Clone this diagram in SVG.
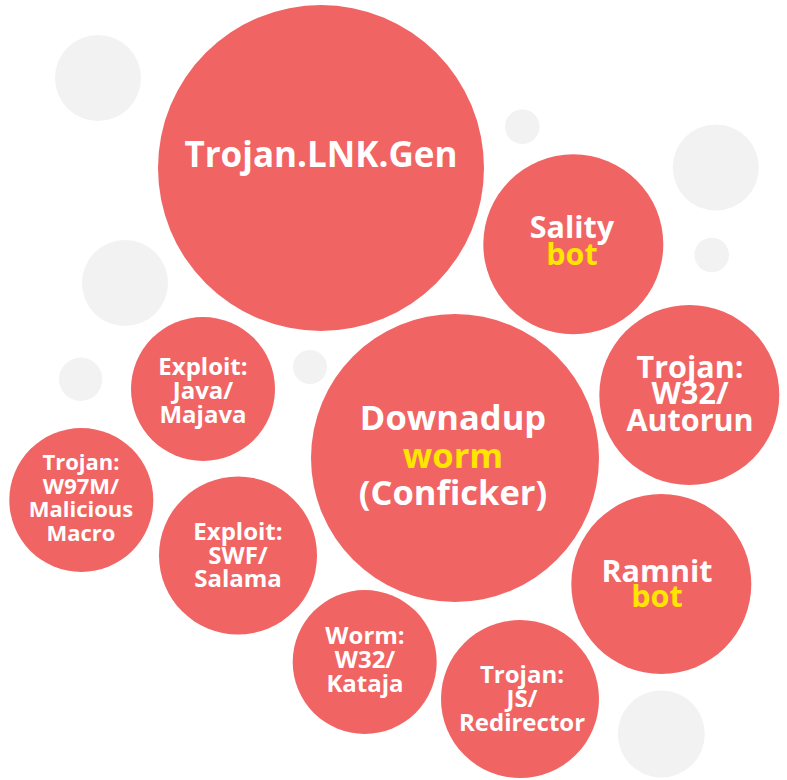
<svg xmlns="http://www.w3.org/2000/svg" width="787" height="780" viewBox="0 0 787 780">
  <style>
    .bg { fill: #FFFFFF; }
    .deco { fill: #F2F2F2; }
    .bubble { fill: #F16464; }
    text { font-family: "Open Sans", "Noto Sans", "Liberation Sans", sans-serif; font-weight: 700; text-anchor: middle; fill: #FFFFFF; }
    .hl { fill: #FFE500; }
    .xl { font-size: 35px; }
    .l { font-size: 34.5px; }
    .m { font-size: 30.5px; }
    .s { font-size: 24px; }
    .xs { font-size: 22px; }
  </style>
  <rect class="bg" x="0" y="0" width="787" height="780"/>

  <!-- decorative grey dots -->
  <g id="decor">
    <circle class="deco" cx="98" cy="78" r="43"/>
    <circle class="deco" cx="125" cy="283" r="43"/>
    <circle class="deco" cx="80.7" cy="379.3" r="21.7"/>
    <circle class="deco" cx="310" cy="367" r="17"/>
    <circle class="deco" cx="522.3" cy="126.7" r="17.3"/>
    <circle class="deco" cx="715.8" cy="167.5" r="43"/>
    <circle class="deco" cx="711.7" cy="255" r="17.3"/>
    <circle class="deco" cx="661.3" cy="734" r="43.5"/>
  </g>

  <g id="trojan-lnk-gen">
    <circle class="bubble" cx="321" cy="168" r="163"/>
    <text class="xl" x="321" y="167">Trojan.LNK.Gen</text>
  </g>

  <g id="sality">
    <circle class="bubble" cx="573.3" cy="244.3" r="90"/>
    <text class="m" x="572" y="238">Sality</text>
    <text class="m hl" x="572" y="265">bot</text>
  </g>

  <g id="trojan-w32-autorun">
    <circle class="bubble" cx="689.3" cy="395" r="90"/>
    <text class="m" x="690" y="378">Trojan:</text>
    <text class="m" x="690" y="404">W32/</text>
    <text class="m" x="690" y="431">Autorun</text>
  </g>

  <g id="exploit-java-majava">
    <circle class="bubble" cx="203" cy="389" r="72"/>
    <text class="s" x="203" y="375">Exploit:</text>
    <text class="s" x="203" y="399">Java/</text>
    <text class="s" x="203" y="423">Majava</text>
  </g>

  <g id="trojan-w97m">
    <circle class="bubble" cx="81.3" cy="500" r="72"/>
    <text class="xs" x="81" y="470">Trojan:</text>
    <text class="xs" x="81" y="493.5">W97M/</text>
    <text class="xs" x="81" y="517">Malicious</text>
    <text class="xs" x="81" y="541">Macro</text>
  </g>

  <g id="downadup">
    <circle class="bubble" cx="455" cy="458" r="144"/>
    <text class="l" x="453" y="430">Downadup</text>
    <text class="l hl" x="453" y="468">worm</text>
    <text class="l" x="453" y="505">(Conficker)</text>
  </g>

  <g id="exploit-swf-salama">
    <circle class="bubble" cx="238" cy="555.5" r="79"/>
    <text class="s" x="238" y="540">Exploit:</text>
    <text class="s" x="238" y="563.5">SWF/</text>
    <text class="s" x="238" y="587">Salama</text>
  </g>

  <g id="ramnit">
    <circle class="bubble" cx="661.3" cy="584" r="90"/>
    <text class="m" x="657" y="582">Ramnit</text>
    <text class="m hl" x="657" y="607">bot</text>
  </g>

  <g id="worm-w32-kataja">
    <circle class="bubble" cx="364.7" cy="662" r="72"/>
    <text class="s" x="365" y="644">Worm:</text>
    <text class="s" x="365" y="668">W32/</text>
    <text class="s" x="365" y="692">Kataja</text>
  </g>

  <g id="trojan-js-redirector">
    <circle class="bubble" cx="520" cy="699" r="79"/>
    <text class="s" x="522" y="683">Trojan:</text>
    <text class="s" x="522" y="707">JS/</text>
    <text class="s" x="522" y="731">Redirector</text>
  </g>
</svg>
